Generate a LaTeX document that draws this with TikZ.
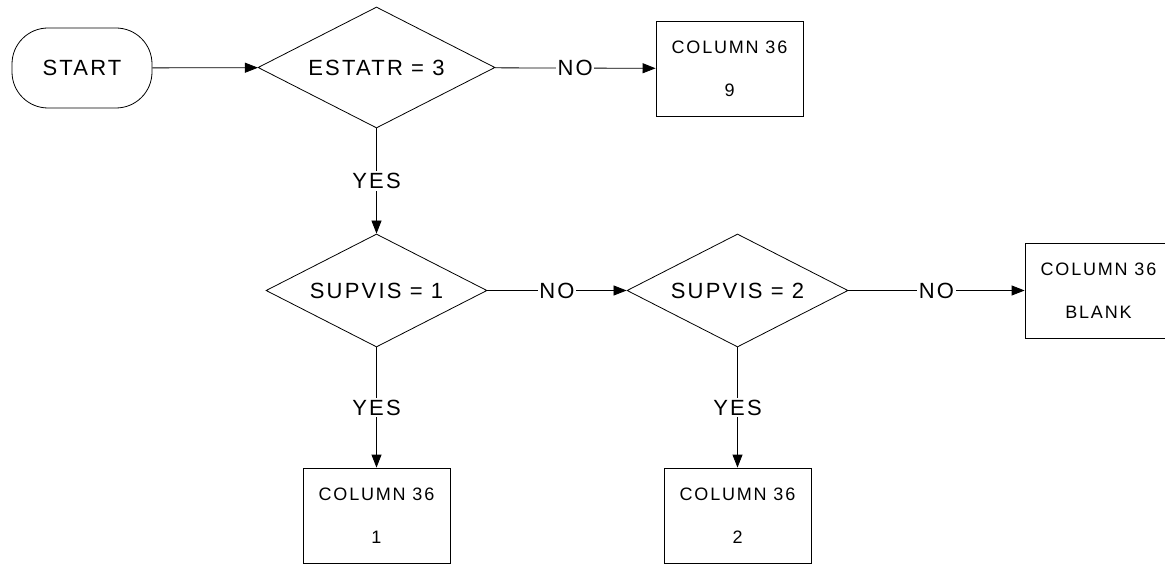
\documentclass[tikz,border=0pt]{standalone}
\usepackage{fontspec}
\setmainfont[LetterSpace=10]{Liberation Sans}
\usetikzlibrary{shapes.geometric,arrows.meta}
\begin{document}
\begin{tikzpicture}[x=1pt,y=-1pt,
  every node/.style={inner sep=0pt},
  base/.style={draw, line width=0.8pt},
  term/.style={base, rectangle, rounded corners=36pt, minimum width=140pt, minimum height=80pt, font=\fontsize{22}{26}\selectfont},
  decide/.style={base, diamond, shape aspect=2, font=\fontsize{22}{26}\selectfont},
  outbox/.style={base, rectangle, minimum width=147pt, minimum height=95pt, align=center, font=\fontsize{18}{43}\selectfont},
  flow/.style={line width=0.8pt, -{Triangle[length=13pt,width=10pt]}},
  lbl/.style={fill=white, inner xsep=1.5pt, inner ysep=2pt, font=\fontsize{22}{26}\selectfont}
]
\clip (0,0) rectangle (1165,564);
\node[term] (start) at (82,68) {START};
\node[decide, minimum width=237pt, minimum height=121pt] (d1) at (376.5,67.5) {ESTATR = 3};
\node[outbox] (b9) at (729.5,68.5) {COLUMN 36\\9};
\node[decide, minimum width=221pt, minimum height=113pt] (d2) at (376.5,290.5) {SUPVIS = 1};
\node[decide, minimum width=221pt, minimum height=113pt] (d3) at (737.5,290.5) {SUPVIS = 2};
\node[outbox] (bb) at (1098.5,290.5) {COLUMN 36\\BLANK};
\node[outbox] (b1) at (376.5,515.5) {COLUMN 36\\1};
\node[outbox] (b2) at (737.5,515.5) {COLUMN 36\\2};

\draw[flow] (start) -- (d1);
\draw[flow] (d1) -- node[lbl]{NO} (b9);
\draw[flow] (d1) -- node[lbl]{YES} (d2);
\draw[flow] (d2) -- node[lbl]{NO} (d3);
\draw[flow] (d3) -- node[lbl]{NO} (bb);
\draw[flow] (d2) -- node[lbl]{YES} (b1);
\draw[flow] (d3) -- node[lbl]{YES} (b2);
\end{tikzpicture}
\end{document}
